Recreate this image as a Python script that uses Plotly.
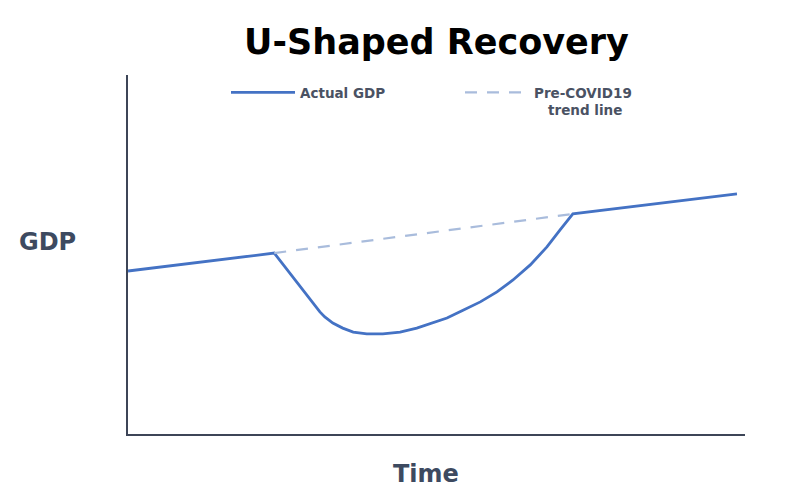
import plotly.graph_objects as go

# Time (0..100) and GDP index values
time_actual = [0, 23.7, 31.1, 31.9, 33.2, 34.8, 36.5, 38.7, 41.3, 44.1, 46.8, 49.4,
               51.7, 54.3, 57.1, 59.8, 62.4, 65.2, 67.9, 70.0, 71.6, 72.1, 98.7]
gdp_actual = [45.4, 50.4, 34.0, 32.6, 30.9, 29.5, 28.4, 27.9, 27.9, 28.4, 29.5, 30.9,
              32.3, 34.5, 36.8, 39.6, 42.9, 47.1, 52.1, 56.8, 60.2, 61.3, 66.9]

time_trend = [23.7, 72.1]
gdp_trend = [50.4, 61.3]

AXIS_COLOR = "#3d4557"
TEXT_COLOR = "#3d4a60"
FONT = "DejaVu Sans"

fig = go.Figure()
fig.add_trace(go.Scatter(
    x=time_actual, y=gdp_actual, mode="lines", name="Actual GDP", legend="legend",
    line=dict(color="#4472c4", width=2.8),
))
fig.add_trace(go.Scatter(
    x=time_trend, y=gdp_trend, mode="lines", legend="legend2",
    name="Pre-COVID19<br>\u00a0\u00a0\u00a0trend line",
    line=dict(color="#a9bcdc", width=2.2, dash="12px,10px"),
))

legend_font = dict(size=13.5, color="#4a5263", family=FONT, weight="bold")

fig.update_layout(
    width=800, height=500,
    margin=dict(l=128, r=55, t=75, b=66),
    paper_bgcolor="white", plot_bgcolor="white",
    font=dict(family=FONT, color=TEXT_COLOR),
    title=dict(text="<b>U-Shaped Recovery</b>", x=0.5, xref="paper",
               y=1 - 42 / 500, yanchor="middle",
               font=dict(size=35, color="black", family=FONT)),
    showlegend=True,
    legend=dict(x=(226 - 128) / 617, xanchor="left", y=0.994, yanchor="top",
                font=legend_font, valign="top", itemwidth=64,
                bgcolor="rgba(0,0,0,0)"),
    legend2=dict(x=(460 - 128) / 617, xanchor="left", y=0.994, yanchor="top",
                 font=legend_font, valign="top", itemwidth=64,
                 bgcolor="rgba(0,0,0,0)"),
    xaxis=dict(range=[0, 100], showgrid=False, zeroline=False, showticklabels=False,
               ticks="", showline=True, linecolor=AXIS_COLOR, linewidth=2),
    yaxis=dict(range=[0, 100], showgrid=False, zeroline=False, showticklabels=False,
               ticks="", showline=True, linecolor=AXIS_COLOR, linewidth=2),
    annotations=[
        dict(text="<b>GDP</b>", xref="paper", yref="paper", x=(47 - 128) / 617,
             y=(434 - 242) / 359, xanchor="center", yanchor="middle", showarrow=False,
             font=dict(size=24, color=TEXT_COLOR, family=FONT)),
        dict(text="<b>Time</b>", xref="paper", yref="paper", x=(426 - 128) / 617,
             y=-(474 - 434) / 359, xanchor="center", yanchor="middle", showarrow=False,
             font=dict(size=24, color=TEXT_COLOR, family=FONT)),
    ],
)

fig.write_html("out.html")
